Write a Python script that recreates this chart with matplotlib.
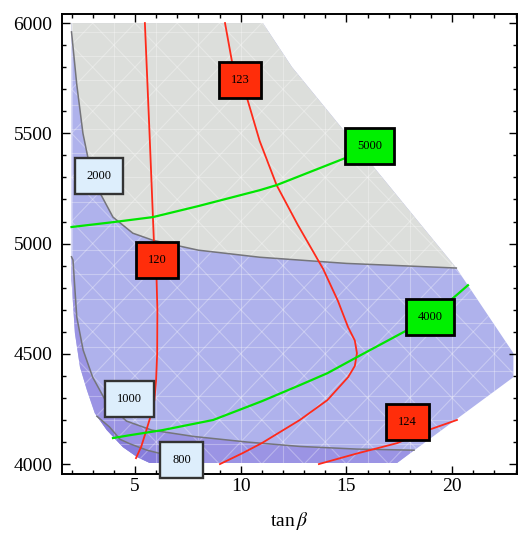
import numpy as np
import matplotlib
matplotlib.use("Agg")
import matplotlib.pyplot as plt
from matplotlib.patches import Polygon
from matplotlib.ticker import MultipleLocator

plt.rcParams['font.family'] = ['Liberation Serif', 'DejaVu Serif']
plt.rcParams['mathtext.fontset'] = 'stix'

# ---------------- data (tan beta, mass) ----------------
# outer boundary of the allowed domain
dom_x = [2.0, 11.05, 12.43, 20.2, 22.9, 22.9, 17.4, 5.7, 5.1, 4.43, 3.67, 3.1, 2.73, 2.4, 2.16, 2.0]
dom_y = [6000, 6000, 5800, 4889, 4503, 4394, 4005, 4005, 4032, 4077, 4154, 4231, 4335, 4440, 4594, 4834]

# region boundaries (contours 2000 / 1000 / 800)
c2000_x = [2.0, 2.25, 2.54, 2.85, 3.2, 3.96, 4.9, 5.85, 8.0, 10.9, 15.0, 20.2]
c2000_y = [5960, 5720, 5500, 5355, 5256, 5120, 5047, 5015, 4970, 4938, 4910, 4889]
c1000_x = [2.0, 2.07, 2.25, 2.55, 3.0, 3.67, 4.6, 5.8, 7.8, 10.3, 12.8, 15.5, 18.2]
c1000_y = [4940, 4925, 4666, 4517, 4394, 4277, 4195, 4154, 4125, 4100, 4080, 4068, 4063]
c800_x = [3.2, 3.8, 4.3, 4.76, 5.57, 6.2, 7.0, 7.4]
c800_y = [4217, 4168, 4112, 4092, 4063, 4048, 4020, 4005]

# Higgs-mass contours (red)
h120_x = [5.47, 5.69, 5.9, 6.02, 6.06, 6.05, 6.0, 5.92, 5.75, 5.5, 5.3, 5.05]
h120_y = [6000, 5500, 5002, 4850, 4700, 4500, 4380, 4290, 4220, 4141, 4080, 4027]
h123_x = [9.26, 9.6, 10.0, 10.3, 10.9, 11.7, 12.7, 13.9, 14.6, 15.08, 15.4, 15.5,
          15.4, 15.08, 14.1, 12.8, 11.0, 10.1, 9.02]
h123_y = [6000, 5820, 5740, 5660, 5465, 5265, 5085, 4885, 4740, 4621, 4560, 4503,
          4445, 4394, 4290, 4200, 4095, 4050, 4000]
h124_x = [13.7, 15.5, 17.4, 18.86, 20.23]
h124_y = [4000, 4048, 4095, 4154, 4200]

# mass contours (green)
m5000_x = [2.0, 3.96, 5.85, 8.0, 10.9, 11.7, 14.93, 16.1]
m5000_y = [5075, 5097, 5120, 5170, 5242, 5265, 5387, 5442]
m4000_x = [3.96, 4.76, 6.3, 8.7, 11.0, 12.8, 14.1, 15.5, 17.87, 18.95, 20.04, 20.75]
m4000_y = [4118, 4131, 4154, 4200, 4285, 4358, 4412, 4485, 4607, 4666, 4752, 4811]

# contour labels
lab_text = ['123', '120', '124', '5000', '4000', '2000', '1000', '800']
lab_x = [9.97, 6.04, 17.9, 16.1, 18.95, 3.3, 4.76, 7.2]
lab_y = [5741, 4925, 4190, 5442, 4666, 5306, 4295, 4018]
lab_kind = ['red', 'red', 'red', 'green', 'green', 'light', 'light', 'light']

# ---------------- figure ----------------
fig = plt.figure(figsize=(5.2, 5.43), dpi=100)
ax = fig.add_axes([62/520, 1-474/543, 455/520, 460/543])
ax.set_xlim(1.55, 23.07)
ax.set_ylim(3955, 6041)

c_light = '#afb2ec'
c_mid = '#9b94e4'
c_dark = '#877ddc'
c_gray = '#dcdedb'

dom = Polygon(np.column_stack([dom_x, dom_y]), closed=True, facecolor=c_light,
              edgecolor='none', zorder=1)
ax.add_patch(dom)

gray_x = c2000_x + [12.43, 11.05, 2.0]
gray_y = c2000_y + [5800, 6000, 6000]
ax.add_patch(Polygon(np.column_stack([gray_x, gray_y]), closed=True,
                     facecolor=c_gray, edgecolor='none', zorder=2))

band_x = c1000_x + [17.4, 5.7, 5.1, 4.43, 3.67, 3.1, 2.73, 2.4, 2.16, 2.0]
band_y = c1000_y + [4005, 4005, 4032, 4077, 4154, 4231, 4335, 4440, 4594, 4834]
ax.add_patch(Polygon(np.column_stack([band_x, band_y]), closed=True,
                     facecolor=c_mid, edgecolor='none', zorder=2))

dband_x = c800_x + [5.7, 5.1, 4.43, 3.67]
dband_y = c800_y + [4005, 4032, 4077, 4154]
ax.add_patch(Polygon(np.column_stack([dband_x, dband_y]), closed=True,
                     facecolor=c_dark, edgecolor='none', zorder=2))

# faint white mesh inside the domain
mesh_lines = []
for xv in np.arange(2.0, 24, 2.0):
    mesh_lines.append(([xv, xv], [3900, 6100]))
for yv in np.arange(3980, 6100, 110):
    mesh_lines.append(([0, 25], [yv, yv]))
for x0 in np.arange(-40, 40, 2.0):
    mesh_lines.append(([x0, x0 + 25], [3900, 3900 + 2500]))
    mesh_lines.append(([x0, x0 + 25], [6100, 6100 - 2500]))
for xs, ys in mesh_lines:
    ln, = ax.plot(xs, ys, color='white', lw=0.8, alpha=0.3, zorder=3)
    ln.set_clip_path(dom)

# region boundary lines
for xs, ys in [(c2000_x, c2000_y), (c1000_x, c1000_y), (c800_x, c800_y)]:
    ax.plot(xs, ys, color='#75757a', lw=1.1, zorder=4)

# contours
for xs, ys in [(h120_x, h120_y), (h123_x, h123_y), (h124_x, h124_y)]:
    ax.plot(xs, ys, color='#ff2a1a', lw=1.3, zorder=5)
for xs, ys in [(m5000_x, m5000_y), (m4000_x, m4000_y)]:
    ax.plot(xs, ys, color='#00e600', lw=1.6, zorder=5)

styles = {
    'red': dict(facecolor='#ff2d0a', edgecolor='black', linewidth=2.0),
    'green': dict(facecolor='#00f000', edgecolor='black', linewidth=2.0),
    'light': dict(facecolor='#ddeefc', edgecolor='#333333', linewidth=1.7),
}
for t, x, y, k in zip(lab_text, lab_x, lab_y, lab_kind):
    ax.text(x, y, t, ha='center', va='center', fontsize=9, zorder=8,
            clip_on=False,
            bbox=dict(boxstyle='square,pad=0.95', **styles[k]))

# axes styling
ax.xaxis.set_major_locator(MultipleLocator(5))
ax.xaxis.set_minor_locator(MultipleLocator(1))
ax.yaxis.set_major_locator(MultipleLocator(500))
ax.yaxis.set_minor_locator(MultipleLocator(100))
ax.tick_params(which='both', direction='in', top=True, right=True, width=1.0)
ax.tick_params(which='major', length=5.5, labelsize=14)
ax.tick_params(which='minor', length=3)
ax.tick_params(axis='y', pad=7)
ax.tick_params(axis='x', pad=3)
for s in ax.spines.values():
    s.set_linewidth(1.4)
ax.set_xlabel(r'tan$\,\beta$', fontsize=14, labelpad=11)

fig.savefig('out.png', dpi=100)
